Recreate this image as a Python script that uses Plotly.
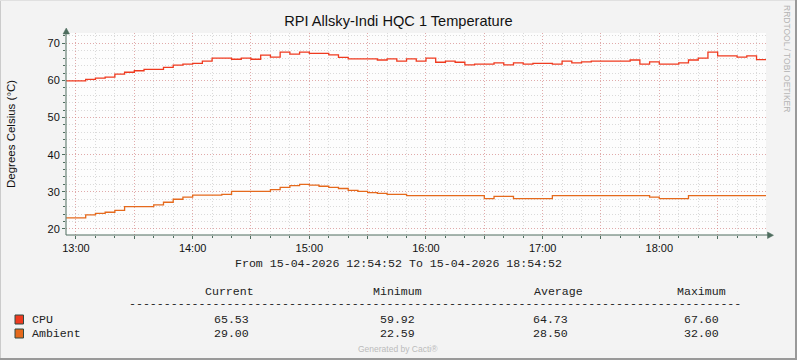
import plotly.graph_objects as go
import pandas as pd

# ---------------- data ----------------
title_text = "RPI Allsky-Indi HQC 1 Temperature"
y_title = "Degrees Celsius (°C)"
series_names = ["CPU", "Ambient"]
series_colors = ["#EF3A1F", "#E5691C"]

data_start = "2026-04-15 12:55:00"
step = "5min"
range_start = "2026-04-15 12:54:52"
range_end = "2026-04-15 18:54:52"

cpu = [59.9, 59.9, 60.3, 60.6, 60.9, 61.7, 62.2, 62.6, 63.0, 63.0,
       63.5, 64.1, 64.4, 64.6, 65.2, 66.0, 66.0, 65.7, 66.0, 65.7,
       66.8, 66.3, 67.6, 67.1, 67.6, 67.3, 67.3, 66.9, 66.2, 65.8,
       65.8, 65.8, 65.5, 65.8, 65.2, 65.8, 65.2, 66.0, 64.9, 65.2,
       64.9, 64.2, 64.4, 64.4, 64.7, 64.2, 64.7, 64.4, 64.6, 64.6,
       64.4, 65.2, 64.7, 65.0, 65.2, 65.2, 65.2, 65.2, 65.5, 64.4,
       65.0, 64.4, 64.4, 64.7, 65.5, 66.0, 67.6, 66.6, 66.6, 66.3,
       66.6, 65.6]

ambient = [23.0, 23.0, 23.8, 24.2, 24.5, 25.0, 26.0, 26.0, 26.0, 26.5,
           27.2, 28.0, 28.6, 29.1, 29.1, 29.1, 29.3, 30.1, 30.1, 30.1,
           30.1, 30.6, 31.2, 31.7, 32.0, 31.8, 31.5, 31.2, 30.9, 30.4,
           30.1, 29.8, 29.6, 29.3, 29.3, 29.0, 29.0, 29.0, 29.0, 29.0,
           29.0, 29.0, 29.0, 28.2, 28.8, 28.8, 28.2, 28.2, 28.2, 28.2,
           29.0, 29.0, 29.0, 29.0, 29.0, 29.0, 29.0, 29.0, 29.0, 29.0,
           28.6, 28.2, 28.2, 28.2, 29.0, 29.0, 29.0, 29.0, 29.0, 29.0,
           29.0, 29.0]

y_ticks = [20, 30, 40, 50, 60, 70]
x_tick_times = ["2026-04-15 13:00", "2026-04-15 13:30", "2026-04-15 14:00",
                "2026-04-15 14:30", "2026-04-15 15:00", "2026-04-15 15:30",
                "2026-04-15 16:00", "2026-04-15 16:30", "2026-04-15 17:00",
                "2026-04-15 17:30", "2026-04-15 18:00", "2026-04-15 18:30"]
x_tick_labels = ["13:00", "", "14:00", "", "15:00", "", "16:00", "",
                 "17:00", "", "18:00", ""]

period_text = "From 15-04-2026 12:54:52 To 15-04-2026 18:54:52"
stat_headers = ["Current", "Minimum", "Average", "Maximum"]
cpu_stats = ["65.53", "59.92", "64.73", "67.60"]
ambient_stats = ["29.00", "22.59", "28.50", "32.00"]
footer_text = "Generated by Cacti®"
side_text = "RRDTOOL / TOBI OETIKER"

# ---------------- layout helpers ----------------
W, H = 797, 360
L, R, T, B = 66, 31, 33, 125
PW, PH = W - L - R, H - T - B


def px(x):
    return (x - L) / PW


def py(y):
    return (H - B - y) / PH


AXIS = "#4E6D5E"
MONO = "Liberation Mono, Courier New, monospace"
SANS = "Liberation Sans, Arial, sans-serif"
MAJOR_GRID = "rgba(230,110,110,0.45)"
MINOR_GRID = "rgba(160,160,160,0.38)"

fig = go.Figure()

times = pd.date_range(data_start, periods=len(cpu) + 1, freq=step)
for name, vals, col in zip(series_names, [cpu, ambient], series_colors):
    fig.add_trace(go.Scatter(
        x=times, y=list(vals) + [vals[-1]], mode="lines", name=name,
        line=dict(color=col, width=1.3, shape="hv"), showlegend=False,
        hoverinfo="x+y"))

fig.update_layout(
    width=W, height=H,
    margin=dict(l=L, r=R, t=T, b=B),
    paper_bgcolor="#F3F3F3",
    plot_bgcolor="#FDFDFD",
    font=dict(family=SANS, size=11, color="#111"),
    title=dict(text=title_text, x=0.5, xanchor="center", y=1 - 21 / H,
               yanchor="middle", font=dict(family=SANS, size=14.6, color="#111")),
    xaxis=dict(
        range=[range_start, range_end], type="date",
        tickvals=x_tick_times, ticktext=x_tick_labels,
        showgrid=True, gridcolor=MAJOR_GRID, griddash="1px,2px",
        gridwidth=1, ticks="outside", ticklen=3, tickcolor=AXIS,
        showline=False, zeroline=False,
        tickfont=dict(family=SANS, size=11, color="#111"),
        minor=dict(dtick=600000, tick0="2026-04-15 13:00", showgrid=True,
                   gridcolor=MINOR_GRID, griddash="1px,2px",
                   ticks="outside", ticklen=2, tickcolor=AXIS),
    ),
    yaxis=dict(
        range=[18.38, 72.77], tickvals=y_ticks,
        showgrid=True, gridcolor=MAJOR_GRID, griddash="1px,2px",
        gridwidth=1, ticks="outside", ticklen=3, tickcolor=AXIS,
        showline=False, zeroline=False,
        tickfont=dict(family=SANS, size=11, color="#111"),
        minor=dict(dtick=2, tick0=0, showgrid=True,
                   gridcolor=MINOR_GRID, griddash="1px,2px",
                   ticks="outside", ticklen=2, tickcolor=AXIS),
    ),
)

shapes = []
# axis lines with arrows
shapes.append(dict(type="line", xref="paper", yref="paper",
                   x0=px(66), x1=px(66), y0=py(235), y1=py(33),
                   line=dict(color=AXIS, width=1), layer="above"))
shapes.append(dict(type="path", xref="paper", yref="paper",
                   path=f"M {px(63)} {py(34)} L {px(69.5)} {py(34)} L {px(66.25)} {py(28)} Z",
                   fillcolor=AXIS, line=dict(color=AXIS, width=0.5), layer="above"))
shapes.append(dict(type="line", xref="paper", yref="paper",
                   x0=px(66), x1=px(768), y0=py(235), y1=py(235),
                   line=dict(color=AXIS, width=1), layer="above"))
shapes.append(dict(type="path", xref="paper", yref="paper",
                   path=f"M {px(767.5)} {py(232)} L {px(767.5)} {py(238.5)} L {px(773.5)} {py(235.25)} Z",
                   fillcolor=AXIS, line=dict(color=AXIS, width=0.5), layer="above"))
# legend colour squares
for col, yc in zip(series_colors, [319.5, 333.5]):
    shapes.append(dict(type="rect", xref="paper", yref="paper",
                       x0=px(15), x1=px(23.5), y0=py(yc + 4.5), y1=py(yc - 4.5),
                       fillcolor=col, line=dict(color="#2F4A42", width=1)))
# outer frame
shapes.append(dict(type="line", xref="paper", yref="paper",
                   x0=px(0.5), x1=px(0.5), y0=py(0), y1=py(360),
                   line=dict(color="#CBCBCB", width=1)))
shapes.append(dict(type="line", xref="paper", yref="paper",
                   x0=px(0), x1=px(797), y0=py(0.5), y1=py(0.5),
                   line=dict(color="#E0E0E0", width=1)))
shapes.append(dict(type="line", xref="paper", yref="paper",
                   x0=px(0), x1=px(797), y0=py(359), y1=py(359),
                   line=dict(color="#999999", width=2)))
shapes.append(dict(type="line", xref="paper", yref="paper",
                   x0=px(796), x1=px(796), y0=py(0), y1=py(360),
                   line=dict(color="#999999", width=2)))
fig.update_layout(shapes=shapes)

ann = []


def text(x, y, s, size=11.6, family=MONO, color="#222", xanchor="center", angle=0):
    ann.append(dict(xref="paper", yref="paper", x=px(x), y=py(y), text=s,
                    showarrow=False, xanchor=xanchor, yanchor="middle",
                    textangle=angle,
                    font=dict(family=family, size=size, color=color)))


text(11, 134, y_title, size=11.5, family=SANS, color="#111", angle=-90)
text(787, 58, side_text, size=8.5, family=SANS, color="#B4B4B4", angle=90)
text(398, 263, period_text)
for s, xc in zip(stat_headers, [229, 397, 558, 701]):
    text(xc, 291, s)
text(435.5, 303, "-" * 88)
text(30, 319, series_names[0], xanchor="left")
text(30, 333, series_names[1], xanchor="left")
for s, xc in zip(cpu_stats, [231, 397, 550, 701.5]):
    text(xc, 319, s)
for s, xc in zip(ambient_stats, [231, 397, 550, 701.5]):
    text(xc, 333, s)
text(398, 349, footer_text, size=8.5, family=SANS, color="#BBBBBB")
fig.update_layout(annotations=ann)

fig.write_html("out.html")
